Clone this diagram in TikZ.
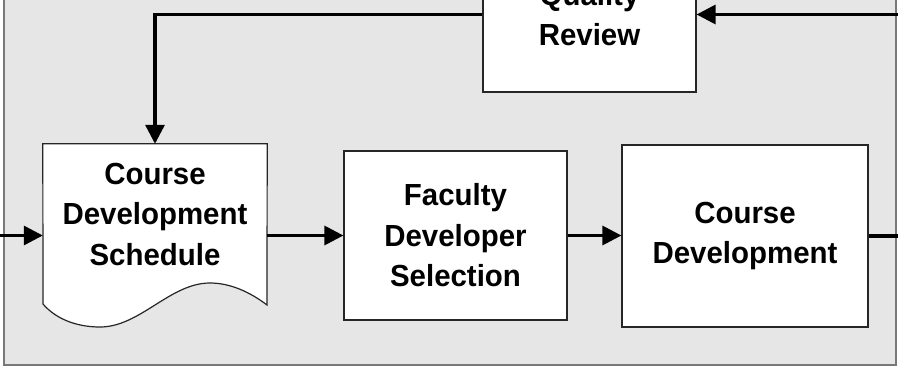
\documentclass[tikz,border=0pt]{standalone}
\usepackage{fontspec}
\setmainfont{Liberation Sans}[FakeStretch=0.965]
\usetikzlibrary{arrows.meta}
\definecolor{panelfill}{RGB}{230,230,230}
\definecolor{panelline}{RGB}{120,120,120}
\tikzset{
  boxfont/.style={font=\fontsize{30.5}{40.5}\selectfont\bfseries},
  procbox/.style={draw=black!85, line width=1.2pt, fill=white, rectangle, align=center,
    boxfont, inner sep=0pt},
  flow/.style={line width=3.2pt, -{Triangle[length=19pt,width=19pt]}},
  plainflow/.style={line width=3.2pt},
}
\begin{document}
\begin{tikzpicture}[x=1pt,y=-1pt]
\useasboundingbox (0,0) rectangle (898,367);
\clip (0,0) rectangle (898,367);
% background panel
\draw[fill=panelfill, draw=panelline, line width=1.5pt] (4,-80) rectangle (896,365);
% document shape
\node[inner sep=0pt, minimum width=224pt, minimum height=161pt] (doc) at (155,224.5) {};
\draw[draw=black!85, line width=1.2pt, fill=white]
  (doc.north west) -- (doc.north east) -- (267,305)
  .. controls (250,292) and (230,283) .. (210,283)
  .. controls (170,283) and (140,327) .. (100,327)
  .. controls (75,327) and (55,318) .. (43,304) -- cycle;
\node[align=center, boxfont] (doctext) at (155,214) {Course\\Development\\Schedule};
% boxes
\node[procbox, minimum width=223pt, minimum height=169pt] (fds) at (455.5,235.5) {Faculty\\Developer\\Selection};
\node[procbox, minimum width=246pt, minimum height=182pt] (cd) at (745,236) {Course\\Development};
\node[procbox, minimum width=213pt, minimum height=155pt] (qr) at (589.5,14.5) {Quality\\Review};
% connectors
\coordinate (inL) at (-10,235.5);
\coordinate (inR) at (910,14.5);
\coordinate (outR) at (910,236);
\draw[flow] (inL) -- (inL -| doc.west);
\draw[flow] (doc.east |- fds.west) -- (fds.west);
\draw[flow] (fds.east) -- (fds.east -| cd.west);
\draw[plainflow] (cd.east) -- (outR);
\draw[flow] (inR) -- (qr.east);
\draw[flow] (qr.west) -| (doc.north);
\end{tikzpicture}
\end{document}
